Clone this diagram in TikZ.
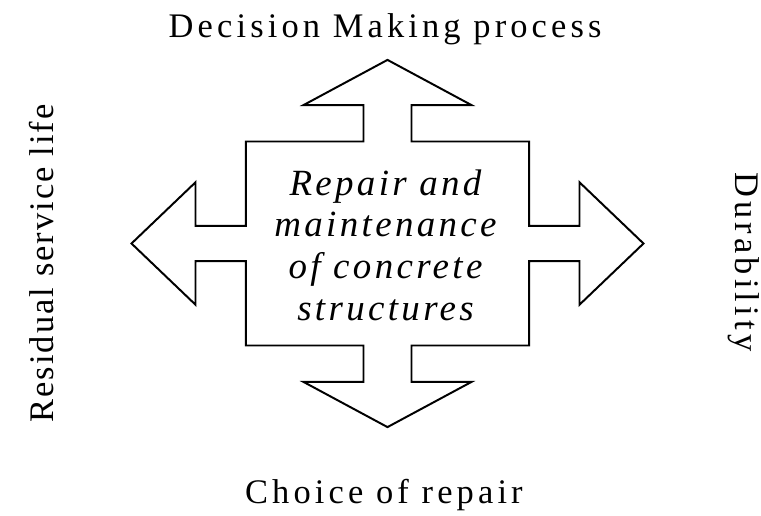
\documentclass[tikz,border=0pt]{standalone}
\usepackage{fontspec}
\setmainfont{Liberation Serif}
\newfontfamily\widefont[LetterSpace=12]{Liberation Serif}
\newfontfamily\midfont[LetterSpace=6]{Liberation Serif}
\newfontfamily\wideitfont[LetterSpace=9]{Liberation Serif Italic}

\tikzset{
	sidelabel/.style={anchor=base, inner sep=0pt, font=\fontsize{24.5}{28}\widefont},
	centerlabel/.style={align=center, inner sep=0pt, font=\fontsize{26.3}{29.7}\wideitfont}
}

\begin{document}
\begin{tikzpicture}
			%%%%% START %%%%%
			
			\useasboundingbox (-9.6875, -6.7875) rectangle (9.3375, 6.0875);
			
			\draw[line width=1.4pt, line join=miter] (0, 4.59) -- (2.1, 3.46) -- (0.6, 3.46) -- (0.6, 2.55) -- (3.54, 2.55) -- (3.54, 0.44) -- (4.8, 0.44) -- (4.8, 1.53) -- (6.4, 0) -- (4.8, -1.53) -- (4.8, -0.44) -- (3.54, -0.44) -- (3.54, -2.55) -- (0.6, -2.55) -- (0.6, -3.46) -- (2.1, -3.46) -- (0, -4.59) -- (-2.1, -3.46) -- (-0.6, -3.46) -- (-0.6, -2.55) -- (-3.54, -2.55) -- (-3.54, -0.44) -- (-4.8, -0.44) -- (-4.8, -1.53) -- (-6.4, 0) -- (-4.8, 1.53) -- (-4.8, 0.44) -- (-3.54, 0.44) -- (-3.54, 2.55) -- (-0.6, 2.55) -- (-0.6, 3.46) -- (-2.1, 3.46) -- cycle;
			
			\node[centerlabel] (repair) at (-0.05, -0.04) {Repair and\\maintenance\\of concrete\\structures};
			
			\node[sidelabel] (decision) at (-0.06, 5.16) {Decision Making process};
			\node[sidelabel] (choice) at (-0.09, -6.51) {Choice of repair};
			\node[sidelabel, rotate=90, font=\fontsize{24.5}{28}\midfont] (residual) at (-8.36, -0.5) {Residual service life};
			\node[sidelabel, rotate=-90] (durability) at (8.71, -0.46) {Durability};
			
			%%%%% END %%%%%
		\end{tikzpicture}
\end{document}
